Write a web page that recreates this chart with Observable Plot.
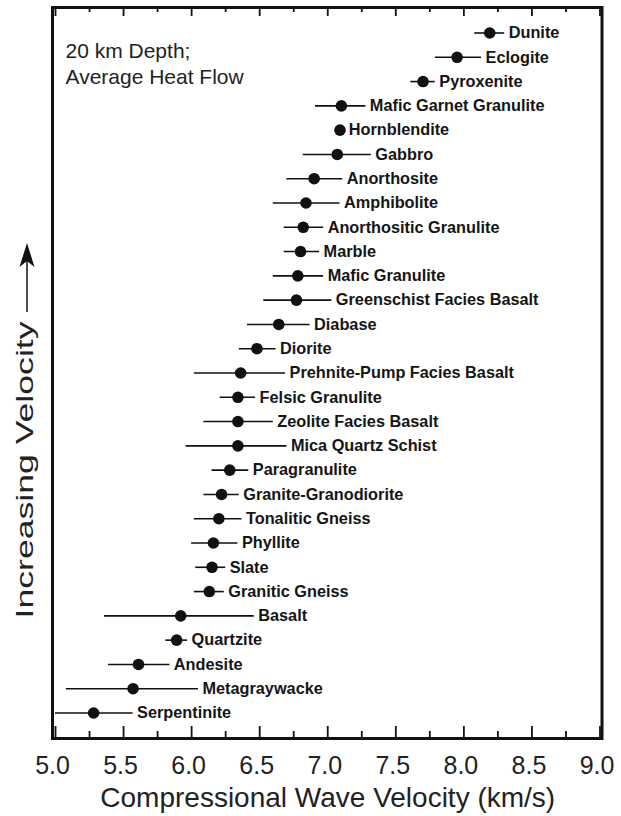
<!DOCTYPE html>
<html><head><meta charset="utf-8">
<script src="https://cdn.jsdelivr.net/npm/d3@7"></script>
<script src="https://cdn.jsdelivr.net/npm/@observablehq/plot@0.6"></script>
<style>
body{margin:0;background:#fff;}
#chart svg{display:block;}
</style></head><body><div id="chart"></div>
<script>
// ---- data ----
const rocks = ["Dunite","Eclogite","Pyroxenite","Mafic Garnet Granulite","Hornblendite","Gabbro","Anorthosite","Amphibolite","Anorthositic Granulite","Marble","Mafic Granulite","Greenschist Facies Basalt","Diabase","Diorite","Prehnite-Pump Facies Basalt","Felsic Granulite","Zeolite Facies Basalt","Mica Quartz Schist","Paragranulite","Granite-Granodiorite","Tonalitic Gneiss","Phyllite","Slate","Granitic Gneiss","Basalt","Quartzite","Andesite","Metagraywacke","Serpentinite"];
const velocity = [8.19,7.95,7.70,7.10,7.09,7.07,6.90,6.84,6.82,6.80,6.78,6.77,6.64,6.48,6.36,6.34,6.34,6.34,6.28,6.22,6.20,6.16,6.15,6.13,5.92,5.89,5.61,5.57,5.28];
const lowEnd   = [8.08,7.79,7.61,6.91,7.09,6.82,6.70,6.60,6.68,6.68,6.60,6.53,6.41,6.35,6.02,6.21,6.09,5.96,6.15,6.09,6.02,6.00,6.03,6.02,5.36,5.81,5.39,5.08,5.00];
const highEnd  = [8.30,8.13,7.79,7.28,7.09,7.32,7.11,7.09,6.97,6.94,6.97,7.03,6.87,6.62,6.69,6.47,6.60,6.70,6.42,6.35,6.37,6.34,6.25,6.24,6.46,5.97,5.84,6.05,5.57];
const majorTicks = [5.0,5.5,6.0,6.5,7.0,7.5,8.0,8.5,9.0];
const minorTicks = [5.25,5.75,6.25,6.75,7.25,7.75,8.25,8.75];
const panelNote = "20 km Depth;\nAverage Heat Flow";
const xTitle = "Compressional Wave Velocity (km/s)";
const yTitle = "Increasing Velocity";

const rows = rocks.map((name, i) => ({name, v: velocity[i], lo: lowEnd[i], hi: highEnd[i]}));

const W = 621, H = 816, mT = 7, mB = 78, mL = 55, mR = 21.5;
const frameH = H - mT - mB;
const font = '"Liberation Sans", Arial, Helvetica, sans-serif';
const ink = "#111";
const yTitleDy = 245.5, yTitleLength = 297;

function yArrow(index, scales, values, dims) {
  const x0 = dims.marginLeft - 28;
  const mid = dims.marginTop + (dims.height - dims.marginTop - dims.marginBottom) / 2;
  const bottom = mid + yTitleDy - yTitleLength - 9;
  const tip = bottom - 69;
  const g = d3.create("svg:g");
  g.append("line").attr("x1", x0).attr("x2", x0).attr("y1", tip + 18).attr("y2", bottom)
    .attr("stroke", ink).attr("stroke-width", 1.5);
  g.append("path").attr("d", `M${x0},${tip} L${x0 + 7.5},${tip + 24} L${x0},${tip + 18} L${x0 - 7.5},${tip + 24} Z`)
    .attr("fill", ink);
  return g.node();
}

const plot = Plot.plot({
  width: W, height: H,
  marginTop: mT, marginBottom: mB, marginLeft: mL, marginRight: mR,
  style: {fontFamily: font, background: "#fff", color: ink, overflow: "visible"},
  x: {domain: [5, 9]},
  y: {type: "point", domain: rocks, padding: 1.05, round: false, axis: null},
  marks: [
    Plot.ruleY(rows, {y: "name", x1: "lo", x2: "hi", stroke: ink, strokeWidth: 1.6}),
    Plot.dot(rows, {x: "v", y: "name", r: 5.8, fill: ink, stroke: null}),
    Plot.text(rows, {x: d => Math.max(d.hi, d.v + 0.035), y: "name", text: "name", textAnchor: "start", dx: 4, fontSize: 16.3, fontWeight: "bold", fill: "#151515"}),
    Plot.ruleX(majorTicks, {x: d => d, insetTop: frameH - 12, stroke: ink, strokeWidth: 1.8}),
    Plot.ruleX(minorTicks, {x: d => d, insetTop: frameH - 7, stroke: ink, strokeWidth: 1.8}),
    Plot.ruleX(majorTicks, {x: d => d, insetBottom: frameH - 9, stroke: ink, strokeWidth: 1.8}),
    Plot.ruleX(minorTicks, {x: d => d, insetBottom: frameH - 5, stroke: ink, strokeWidth: 1.8}),
    Plot.axisX(majorTicks, {anchor: "bottom", tickSize: 0, tickPadding: 18, tickFormat: d3.format(".1f"), fontSize: 25, label: null, dx: -3, fill: "#222"}),
    Plot.frame({stroke: ink, strokeWidth: 3, insetLeft: -3, insetRight: -2}),
    Plot.text([panelNote], {text: d => d, frameAnchor: "top-left", textAnchor: "start", lineAnchor: "top", dx: 10, dy: 32, fontSize: 21, lineHeight: 1.24, fill: "#222"}),
    Plot.text([xTitle], {text: d => d, frameAnchor: "bottom", dy: 68, fontSize: 28, fill: "#222"}),
    Plot.text([yTitle], {text: d => d, frameAnchor: "left", rotate: -90, textAnchor: "start", dx: -30, dy: yTitleDy, fontSize: 24, fill: "#222"}),
    yArrow
  ]
});

for (const t of plot.querySelectorAll("text")) {
  if (t.textContent === yTitle) {
    t.setAttribute("textLength", yTitleLength);
    t.setAttribute("lengthAdjust", "spacingAndGlyphs");
  }
}
document.getElementById("chart").append(plot);
</script>
</body></html>
